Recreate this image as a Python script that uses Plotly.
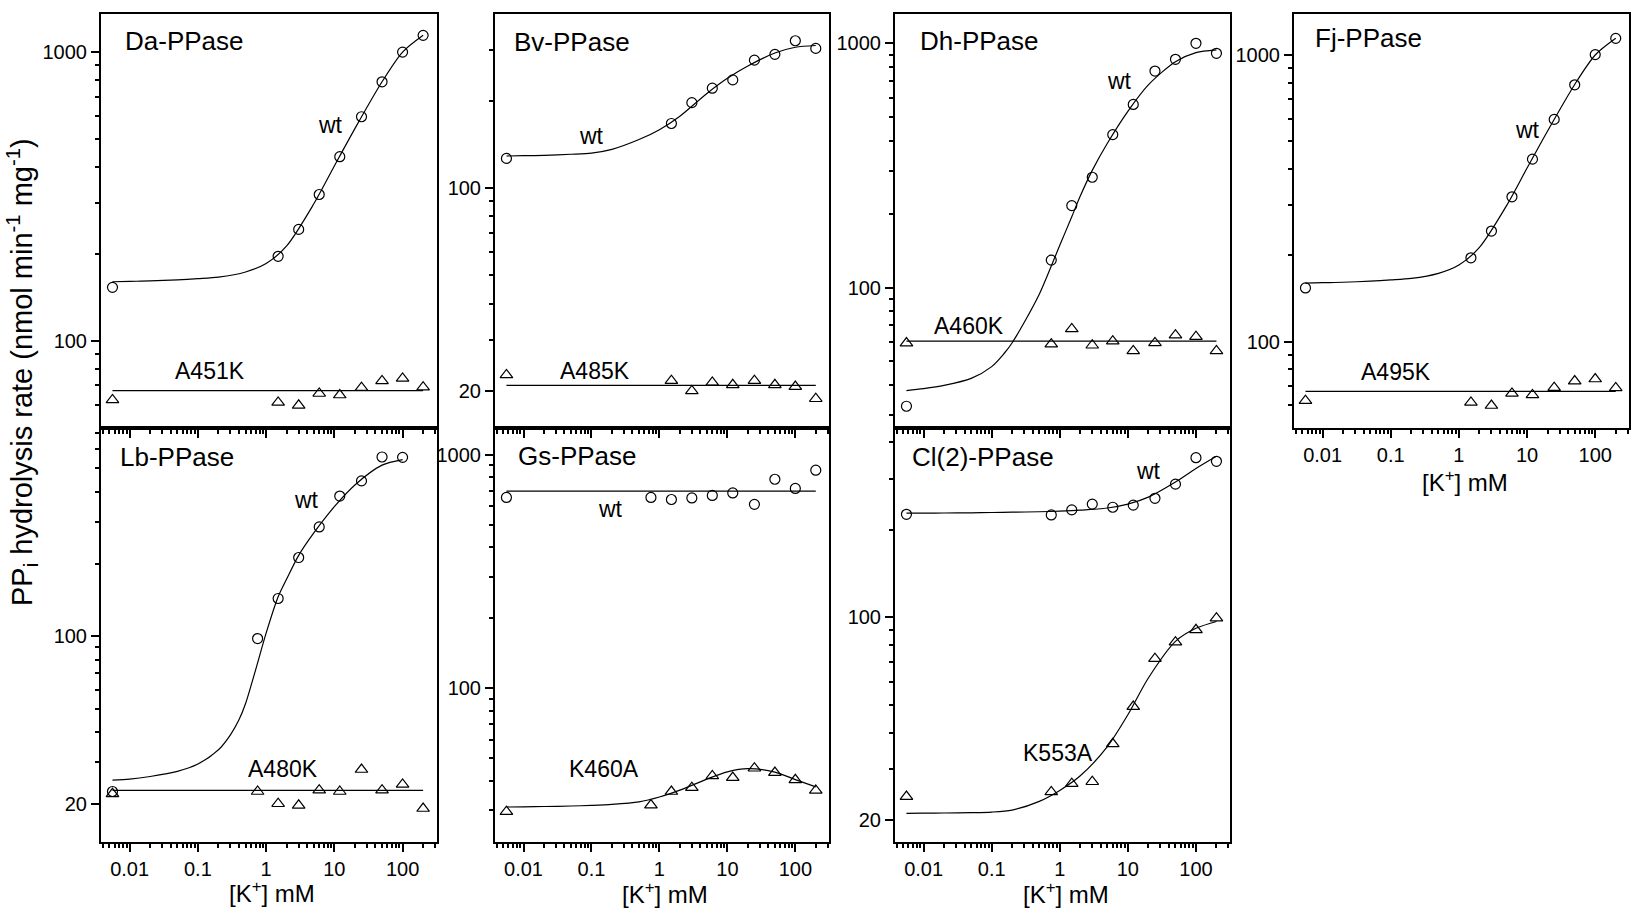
import plotly.graph_objects as go

# ---------------- data ----------------
X9 = [0.0056, 1.5, 3, 6, 12, 25, 50, 100, 200]
X10 = [0.0056, 0.75, 1.5, 3, 6, 12, 25, 50, 100, 200]
X_LINE = [0.0056, 200]
FIT_X = [0.0056, 0.01, 0.02, 0.05, 0.1, 0.2, 0.5, 1, 2, 5, 10, 20, 50, 100, 200]
LB_FIT_X = [0.0056, 0.01, 0.02, 0.05, 0.1, 0.2, 0.3, 0.4, 0.5, 0.7, 1, 1.5, 2, 3, 5, 10, 20, 50, 100]
DH_FIT_X = [0.0056, 0.01, 0.02, 0.05, 0.1, 0.15, 0.2, 0.3, 0.5, 0.7, 1, 1.5, 2, 3, 5, 10, 20, 50, 100, 200]

# Da-PPase
DA_WT = [153, 196, 243, 321, 434, 597, 789, 1000, 1143]
DA_FIT = [160, 160.5, 161, 162.5, 164, 166, 173, 185, 213, 298, 403, 543, 789, 1000, 1143]
DA_MUT = [62.3, 61.1, 59.7, 65.6, 64.8, 68.7, 72.5, 74, 69]
DA_MUT_LINE = [67.1, 67.1]

# Lb-PPase
LB_WT_X = [0.0056, 0.75, 1.5, 3, 6, 12, 25, 50, 100]
LB_WT = [22.6, 97.8, 143.6, 212.6, 285, 383, 443, 557, 555]
LB_FIT = [25.2, 25.45, 26.1, 27.4, 29.4, 33.7, 38.9, 44.9, 52.5, 72.3, 103, 146, 173, 217, 269, 346, 426, 515, 543]
LB_MUT = [22.1, 22.6, 20.1, 19.8, 22.9, 22.6, 27.9, 22.9, 24.2, 19.2]
LB_MUT_LINE = [22.86, 22.86]

# Bv-PPase
BV_WT = [126.6, 167, 197, 221, 236, 276, 289, 322, 303]
BV_FIT = [129, 129.3, 129.7, 130.8, 132, 136, 147, 159, 177, 212, 239, 263.5, 292, 305.7, 310]
BV_MUT = [22.7, 21.7, 20.0, 21.4, 21.0, 21.7, 21.0, 20.7, 18.8]
BV_MUT_LINE = [20.9, 20.9]

# Gs-PPase
GS_WT = [655, 655, 642, 652, 668, 685, 612, 784, 716, 857]
GS_WT_LINE = [697, 697]
GS_MUT = [29.5, 31.5, 36, 37.4, 42, 41.3, 45.3, 43.4, 40.4, 36.4]
GS_FIT = [30.9, 30.95, 31.05, 31.2, 31.4, 31.7, 32.5, 34.1, 36.5, 40.7, 43.7, 45.1, 43.6, 40.5, 37.7]

# Dh-PPase
DH_WT = [32.7, 129.6, 216.6, 283, 423, 562, 770, 860, 1000, 910]
DH_FIT = [37.9, 38.6, 39.8, 42.5, 47.5, 53.5, 59.5, 72, 94, 117, 149, 195, 237, 302, 390, 527, 676, 841, 916, 940]
DH_MUT = [59.3, 58.7, 67.8, 58.1, 60.4, 55.1, 59.4, 63.9, 63, 55.1]
DH_MUT_LINE = [60.4, 60.4]

# Cl(2)-PPase
CL_WT = [226, 224.8, 234, 245, 239, 243, 256.5, 287, 354, 344]
CL_WT_FIT = [228, 228.1, 228.3, 228.7, 229.2, 229.8, 230.6, 231.7, 233.5, 237.5, 245, 259, 292, 325, 358]
CL_MUT = [24.1, 25.0, 26.7, 27.1, 36.6, 49.2, 71.9, 82, 90.4, 99.2]
CL_MUT_FIT = [21.1, 21.12, 21.15, 21.2, 21.3, 21.65, 23.2, 25.3, 28.4, 35.8, 46.1, 61.7, 82.5, 91.5, 96.6]

# Fj-PPase
FJ_WT = [153.8, 196, 243, 320, 433, 596, 787, 1003, 1143]
FJ_FIT = [160, 160.5, 161, 162.5, 164, 166, 173, 185, 213, 298, 403, 543, 789, 1000, 1143]
FJ_MUT = [62.2, 61.3, 59.8, 65.9, 65.1, 69, 72.8, 74, 68.9]
FJ_MUT_LINE = [67.0, 67.0]

X_TICKS = [0.01, 0.1, 1, 10, 100]
X_TICK_TEXT = ["0.01", "0.1", "1", "10", "100"]

# ---------------- layout helpers ----------------
W, H = 1632, 913
FONT = "Arial, Liberation Sans, sans-serif"
COLS = [(101, 436.7), (495, 829.3), (895, 1230), (1294, 1629.3)]
ROWS = [(14, 427.5), (427.5, 842)]
XR = [-2.42, 2.5]


def fx(p):
    return p / W


def fy(p):
    return 1 - p / H


def minor_vals(lo, hi, exclude):
    out = []
    for n in range(-4, 4):
        for k in range(2, 10):
            v = k * 10 ** n
            if lo * 1.01 < v < hi * 0.99 and v not in exclude:
                out.append(v)
    return out


# panel: (col, row, y log range, major y ticks, show x labels)
PANELS = [
    (0, 0, [1.699, 3.132], [100, 1000], False),   # Da
    (0, 1, [1.144, 2.8685], [20, 100], True),     # Lb
    (1, 0, [1.175, 2.6], [20, 100], False),       # Bv
    (1, 1, [1.34, 3.116], [100, 1000], True),     # Gs
    (2, 0, [1.4275, 3.12], [100, 1000], False),   # Dh
    (2, 1, [1.2254, 2.653], [20, 100], True),     # Cl(2)
    (3, 0, [1.70, 3.143], [100, 1000], True),     # Fj
]

fig = go.Figure()
layout = {}
for i, (c, r, yr, ymaj, showx) in enumerate(PANELS, start=1):
    xs = "" if i == 1 else str(i)
    x0, x1 = COLS[c]
    yt, yb = ROWS[r]
    common = dict(
        type="log", showline=True, linewidth=2, linecolor="black", mirror=True,
        showgrid=False, zeroline=False, ticks="outside", ticklen=8, tickwidth=1.5,
        tickcolor="black", tickfont=dict(family=FONT, size=20, color="black"),
    )
    layout["xaxis" + xs] = dict(
        common, domain=[fx(x0), fx(x1)], range=XR, anchor="y" + xs,
        tickmode="array", tickvals=X_TICKS, ticktext=X_TICK_TEXT,
        showticklabels=showx,
        minor=dict(tickmode="array", tickvals=minor_vals(10 ** XR[0], 10 ** XR[1], X_TICKS),
                   ticks="outside", ticklen=4, tickwidth=1.5, tickcolor="black", showgrid=False),
    )
    lo, hi = 10 ** yr[0], 10 ** yr[1]
    layout["yaxis" + xs] = dict(
        common, domain=[fy(yb), fy(yt)], range=yr, anchor="x" + xs,
        tickmode="array", tickvals=ymaj, ticktext=[str(v) for v in ymaj],
        minor=dict(tickmode="array", tickvals=minor_vals(lo, hi, ymaj),
                   ticks="outside", ticklen=4, tickwidth=1.5, tickcolor="black", showgrid=False),
    )


def ax(i):
    s = "" if i == 1 else str(i)
    return "x" + s, "y" + s


LINE = dict(color="black", width=1.2)
CIRC = dict(symbol="circle-open", size=10, color="black", line=dict(width=1.2, color="black"))
TRI = dict(symbol="triangle-up-open", size=11, color="black", line=dict(width=1.2, color="black"))


def curve(i, x, y):
    xa, ya = ax(i)
    fig.add_trace(go.Scatter(x=x, y=y, mode="lines", line=dict(LINE, shape="spline", smoothing=0.8),
                             xaxis=xa, yaxis=ya, showlegend=False, hoverinfo="skip"))


def pts(i, x, y, m):
    xa, ya = ax(i)
    fig.add_trace(go.Scatter(x=x, y=y, mode="markers", marker=m, xaxis=xa, yaxis=ya,
                             showlegend=False))


# Da
curve(1, FIT_X, DA_FIT); pts(1, X9, DA_WT, CIRC)
curve(1, X_LINE, DA_MUT_LINE); pts(1, X9, DA_MUT, TRI)
# Lb
curve(2, LB_FIT_X, LB_FIT); curve(2, X_LINE, LB_MUT_LINE)
pts(2, LB_WT_X, LB_WT, CIRC); pts(2, X10, LB_MUT, TRI)
# Bv
curve(3, FIT_X, BV_FIT); pts(3, X9, BV_WT, CIRC)
curve(3, X_LINE, BV_MUT_LINE); pts(3, X9, BV_MUT, TRI)
# Gs
curve(4, X_LINE, GS_WT_LINE); pts(4, X10, GS_WT, CIRC)
curve(4, FIT_X, GS_FIT); pts(4, X10, GS_MUT, TRI)
# Dh
curve(5, DH_FIT_X, DH_FIT); pts(5, X10, DH_WT, CIRC)
curve(5, X_LINE, DH_MUT_LINE); pts(5, X10, DH_MUT, TRI)
# Cl(2)
curve(6, FIT_X, CL_WT_FIT); pts(6, X10, CL_WT, CIRC)
curve(6, FIT_X, CL_MUT_FIT); pts(6, X10, CL_MUT, TRI)
# Fj
curve(7, FIT_X, FJ_FIT); pts(7, X9, FJ_WT, CIRC)
curve(7, X_LINE, FJ_MUT_LINE); pts(7, X9, FJ_MUT, TRI)

LABELS = [
    ("Da-PPase", 122.7, 41.2, "left", 26), ("wt", 330, 125, "center", 23), ("A451K", 210.3, 371.3, "center", 23),
    ("Lb-PPase", 118.3, 457, "left", 26), ("wt", 306.3, 500, "center", 23), ("A480K", 283.3, 768.7, "center", 23),
    ("Bv-PPase", 511.7, 41.7, "left", 26), ("wt", 591.7, 136, "center", 23), ("A485K", 594.7, 370.5, "center", 23),
    ("Gs-PPase", 516, 455.8, "left", 26), ("wt", 610, 509, "center", 23), ("K460A", 603.8, 768.8, "center", 23),
    ("Dh-PPase", 917.7, 40.8, "left", 26), ("wt", 1119, 81, "center", 23), ("A460K", 968.7, 325.8, "center", 23),
    ("Cl(2)-PPase", 910, 457, "left", 26), ("wt", 1148.8, 471.5, "center", 23), ("K553A", 1057.5, 752.5, "center", 23),
    ("Fj-PPase", 1313.3, 38, "left", 26), ("wt", 1527.5, 129.5, "center", 23), ("A495K", 1395.5, 372.2, "center", 23),
]
ann = []
for t, x, y, anc, sz in LABELS:
    ann.append(dict(text=t, x=fx(x), y=fy(y), xref="paper", yref="paper", xanchor=anc, yanchor="middle",
                    showarrow=False, font=dict(family=FONT, size=sz, color="black")))

XTITLE = "[K<sup>+</sup>] mM"
for cx, cy in [((COLS[0][0] + COLS[0][1]) / 2 + 3, 892), ((COLS[1][0] + COLS[1][1]) / 2 + 3, 893),
               ((COLS[2][0] + COLS[2][1]) / 2 + 3, 893), ((COLS[3][0] + COLS[3][1]) / 2 + 3, 481)]:
    ann.append(dict(text=XTITLE, x=fx(cx), y=fy(cy), xref="paper", yref="paper", xanchor="center",
                    yanchor="middle", showarrow=False, font=dict(family=FONT, size=24, color="black")))

ann.append(dict(text="PP<sub>i</sub> hydrolysis rate (nmol min<sup>-1</sup> mg<sup>-1</sup>)",
                x=fx(22), y=fy(372), xref="paper", yref="paper", xanchor="center", yanchor="middle",
                textangle=-90, showarrow=False, font=dict(family=FONT, size=29, color="black")))

fig.update_layout(
    **layout,
    annotations=ann,
    width=W, height=H,
    margin=dict(l=0, r=0, t=0, b=0),
    paper_bgcolor="white", plot_bgcolor="white",
    showlegend=False,
    font=dict(family=FONT, color="black"),
)

fig.write_html("out.html")
